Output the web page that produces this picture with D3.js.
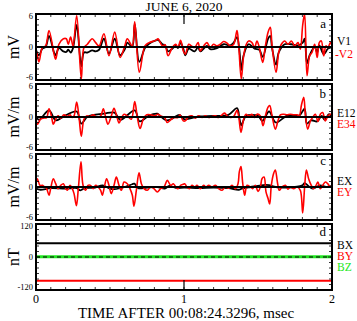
<!DOCTYPE html>
<html><head><meta charset="utf-8">
<script src="https://cdn.jsdelivr.net/npm/d3@7"></script>
<style>body{margin:0;background:#fff}svg{display:block}text{font-family:"Liberation Serif","Times New Roman",serif}</style>
</head><body><svg id="c" width="357" height="321"></svg>
<script>
// ---- DATA (time in msec, values in panel units) ----
const title = "JUNE 6, 2020";
const xLabel = "TIME AFTER 00:08:24.3296, msec";
const xTicks = [0, 1, 2];
const panelLetters = ["a", "b", "c", "d"];
const yLabels = ["mV", "mV/m", "mV/m", "nT"];
const seriesNames = [["V1", "-V2"], ["E12", "E34"], ["EX", "EY"], ["BX", "BY", "BZ"]];

// Panel a: V1 (black), -V2 (red)
const v1 = [[0,-0.5],[0.02,-1.5],[0.043,-0.3],[0.065,0],[0.088,2],[0.122,-1],[0.133,-1.5],[0.155,-0.2],[0.185,-0.8],[0.205,-0.9],[0.218,-0.5],[0.234,-1],[0.25,-0.2],[0.275,4],[0.306,-3.5],[0.324,-1],[0.347,-1],[0.38,-0.6],[0.403,-0.8],[0.426,-0.5],[0.459,1.5],[0.493,-1.2],[0.532,1.5],[0.568,-1.5],[0.6,-0.4],[0.617,0.8],[0.65,0],[0.667,4.2],[0.698,-2.7],[0.736,-0.2],[0.764,0.6],[0.809,1.2],[0.824,1.3],[0.854,0.5],[0.872,0.3],[0.892,-0.8],[0.921,-0.3],[0.944,0.2],[0.959,-0.2],[0.977,0.8],[0.995,-0.3],[1.009,-1.5],[1.032,-0.3],[1.072,-0.8],[1.095,0],[1.11,-0.8],[1.155,0.2],[1.178,-0.4],[1.223,-0.2],[1.268,0.5],[1.313,0.3],[1.336,0.8],[1.358,1.8],[1.374,-0.5],[1.387,-4.2],[1.403,-1.5],[1.437,0.5],[1.477,-0.3],[1.509,-0.5],[1.532,-1.8],[1.568,1.5],[1.583,2],[1.595,-0.2],[1.622,-3.2],[1.64,-1],[1.68,0.5],[1.725,0.5],[1.77,0.3],[1.802,0.8],[1.815,1.5],[1.831,-3],[1.849,-1.5],[1.883,0],[1.9,-1],[1.914,0.3],[1.944,-1.3],[1.973,-0.3],[2,0]];
const v2neg = [[0,-0.6],[0.005,-1],[0.02,-2.7],[0.043,-0.1],[0.065,0.2],[0.088,3],[0.122,-1.3],[0.133,-2.2],[0.155,0.5],[0.185,1.5],[0.205,1.5],[0.218,0.5],[0.234,1.8],[0.25,0.2],[0.275,5.7],[0.306,-5.8],[0.324,-0.1],[0.347,0.5],[0.38,1.5],[0.403,0.8],[0.426,0.2],[0.459,2.4],[0.493,-1.6],[0.532,2.7],[0.568,-1.9],[0.6,0.2],[0.617,1.5],[0.65,0.2],[0.667,4.6],[0.698,-4.6],[0.736,0.2],[0.764,0.8],[0.809,1.2],[0.824,1.5],[0.854,0.2],[0.872,0.4],[0.892,-1.6],[0.921,-0.1],[0.944,0.5],[0.959,-0.1],[0.977,1.2],[0.995,-0.7],[1.009,-1.3],[1.032,0.5],[1.05,0.2],[1.072,-0.1],[1.095,0.8],[1.11,-0.7],[1.133,0.2],[1.155,0.8],[1.178,-0.1],[1.2,0.5],[1.223,0.2],[1.245,0.5],[1.268,1],[1.291,0.7],[1.313,0.2],[1.336,0.5],[1.358,3],[1.369,0.5],[1.387,-5.8],[1.403,-1.6],[1.421,0.5],[1.437,1.1],[1.459,0.8],[1.477,-0.1],[1.493,1.1],[1.509,-0.1],[1.532,-2.8],[1.55,0.2],[1.568,2.7],[1.583,3.6],[1.595,0.2],[1.622,-4.6],[1.64,-1],[1.658,0.5],[1.68,1.1],[1.703,0.5],[1.725,1.1],[1.748,0.2],[1.77,0.8],[1.786,-0.4],[1.802,4],[1.815,6],[1.831,-5.2],[1.849,-1.6],[1.865,-1],[1.883,0.5],[1.9,-1.9],[1.914,0.8],[1.928,1.1],[1.944,-1.6],[1.959,0.2],[1.973,-0.1],[1.989,0.8],[2,0.2]];

// Panel b: E12 (black), E34 (red)
const e12 = [[0,0],[0.02,-0.5],[0.088,1.2],[0.133,-0.6],[0.2,0.3],[0.275,1],[0.306,-1.2],[0.35,0.1],[0.46,0.6],[0.53,0.8],[0.57,-0.5],[0.667,1.2],[0.7,-0.8],[0.76,0.2],[0.82,0.6],[0.835,0.3],[0.88,-0.6],[0.92,-0.3],[0.97,0.4],[1,-0.4],[1.1,0.1],[1.2,0.2],[1.3,0.4],[1.358,1.6],[1.375,-0.3],[1.387,-1.5],[1.42,0.2],[1.5,0.2],[1.53,-0.7],[1.575,1],[1.62,-1],[1.7,0.3],[1.78,0.3],[1.815,1.5],[1.83,-1.2],[1.86,-0.6],[1.9,-0.8],[1.93,0.2],[1.95,-0.5],[1.98,0.5],[2,0]];
const e34 = [[0,0.8],[0.009,-1.3],[0.032,-0.4],[0.054,-0.2],[0.072,-0.1],[0.088,1.5],[0.104,0.2],[0.117,-1.3],[0.133,-0.4],[0.149,0.2],[0.167,-0.2],[0.189,0.4],[0.212,0.1],[0.23,0.4],[0.245,-0.1],[0.257,0.2],[0.275,2.7],[0.291,-0.1],[0.306,-3.5],[0.324,-0.4],[0.342,0.2],[0.365,0.1],[0.387,0.4],[0.41,0],[0.437,0.2],[0.455,1.5],[0.471,-0.1],[0.486,-1.3],[0.509,0.2],[0.527,1.6],[0.545,0.2],[0.561,-1.1],[0.577,-0.2],[0.595,0.5],[0.617,0.2],[0.644,-0.4],[0.667,2.8],[0.685,-0.1],[0.703,-2.1],[0.725,-0.4],[0.748,0.4],[0.775,0.4],[0.802,0.2],[0.824,0.5],[0.842,0.2],[0.869,-0.1],[0.887,-1],[0.91,-0.5],[0.932,-0.1],[0.959,-0.1],[0.973,0.4],[0.995,-0.7],[1.009,-0.7],[1.032,0.1],[1.054,0.2],[1.077,-0.2],[1.099,0.2],[1.122,-0.1],[1.144,0.2],[1.167,-0.1],[1.189,0.1],[1.212,0.2],[1.234,-0.1],[1.257,0.4],[1.275,0.7],[1.291,0.2],[1.313,-0.1],[1.336,0.1],[1.358,1.2],[1.369,0.2],[1.385,-2.8],[1.403,-0.4],[1.419,0.5],[1.437,0.2],[1.459,0.5],[1.477,-0.1],[1.493,0.5],[1.516,0.2],[1.534,-1.6],[1.55,0.2],[1.568,1.8],[1.579,2.1],[1.595,0.2],[1.617,-2.2],[1.635,-0.7],[1.651,0.4],[1.674,0.5],[1.696,0.4],[1.718,0.5],[1.741,0.4],[1.764,0.4],[1.779,0.2],[1.793,2.1],[1.809,3.6],[1.82,0.5],[1.836,-2.2],[1.854,-0.7],[1.869,-0.1],[1.887,0.5],[1.905,-0.8],[1.921,0.5],[1.937,0.8],[1.955,-0.7],[1.973,0.2],[1.989,0.5],[2,0.2]];

// Panel c: EX (black), EY (red)
const ex = [[0,-0.3],[0.03,-0.5],[0.1,-0.2],[0.2,-0.3],[0.275,-0.2],[0.3,-0.6],[0.33,-0.2],[0.4,-0.1],[0.45,0.3],[0.5,-0.3],[0.53,-0.4],[0.6,0],[0.65,0.5],[0.665,0.6],[0.69,-0.2],[0.75,-0.1],[0.82,0],[0.87,-0.3],[0.9,0.2],[0.95,-0.2],[1,-0.1],[1.1,-0.2],[1.2,-0.1],[1.3,-0.2],[1.37,-0.5],[1.39,-0.3],[1.45,0],[1.55,0.4],[1.58,0.3],[1.62,0],[1.7,-0.1],[1.8,0.3],[1.815,0.7],[1.84,0.2],[1.87,-0.3],[1.92,0.3],[1.96,0],[2,0.2]];
const ey = [[0,0.6],[0.009,1.5],[0.027,0.3],[0.043,0.3],[0.059,0],[0.072,-0.3],[0.088,-1.5],[0.099,-0.3],[0.117,1.5],[0.133,0.6],[0.149,-0.3],[0.167,0.3],[0.185,0.6],[0.2,-0.3],[0.212,-0.6],[0.23,0.3],[0.245,-0.3],[0.257,-1.2],[0.273,-3.4],[0.286,-0.3],[0.304,4.6],[0.318,0.3],[0.336,-0.6],[0.351,0.3],[0.369,0.3],[0.387,-0.3],[0.403,0.3],[0.419,0],[0.437,-0.6],[0.448,-1.5],[0.464,0.3],[0.477,1.5],[0.493,0.3],[0.509,-1.2],[0.527,0.3],[0.543,1.8],[0.561,0.3],[0.577,-0.6],[0.595,0.9],[0.617,0.6],[0.635,-0.3],[0.651,-1.5],[0.662,-3.5],[0.678,-0.6],[0.696,2.6],[0.712,0.6],[0.73,-0.3],[0.752,-0.6],[0.775,0],[0.797,-0.3],[0.82,-0.9],[0.842,-0.3],[0.865,0],[0.887,1.2],[0.91,0.3],[0.928,0.6],[0.944,0],[0.959,-0.3],[0.977,0.3],[0.995,0.5],[1.005,0.6],[1.02,0],[1.036,-0.3],[1.054,0.3],[1.072,0],[1.088,0.3],[1.11,-0.3],[1.133,0.3],[1.149,0],[1.167,0.3],[1.189,0],[1.212,0.3],[1.234,-0.3],[1.257,-0.6],[1.279,0],[1.302,-0.2],[1.324,0.3],[1.347,-0.3],[1.365,0.6],[1.374,2.8],[1.385,3.7],[1.396,0.9],[1.41,-1.5],[1.426,0.3],[1.448,0],[1.464,-0.3],[1.482,0.3],[1.5,-0.8],[1.516,0],[1.527,1.5],[1.541,1.8],[1.554,-0.9],[1.568,-2.1],[1.579,-3.1],[1.59,0.3],[1.606,2.5],[1.617,3.1],[1.631,0.9],[1.644,-0.6],[1.662,0],[1.685,0.3],[1.703,-0.4],[1.718,0],[1.741,-0.3],[1.764,0],[1.786,-0.6],[1.802,-4.7],[1.815,0],[1.827,3.1],[1.842,1.5],[1.86,0.3],[1.876,-0.3],[1.892,0.3],[1.905,0.9],[1.921,-0.3],[1.937,0.3],[1.955,0.9],[1.971,0.6],[1.989,0],[2,0.3]];

// Panel d: BX, BY, BZ (nT)
const bx = [[0,50],[1,50],[2,50]];
const by = [[0,-86],[1,-86],[2,-86]];
const bz = [[0,0.5],[1,0.5],[2,0.5]];

// ---- LAYOUT ----
const svg = d3.select("#c");
const X0 = 36, X1 = 332, PT = 14, PH = 66, PS = 70;
const x = d3.scaleLinear().domain([0, 2]).range([X0, X1]);
const RED = "#ff0000", GREEN = "#22e622";

const panels = [
  {dom: [-6, 6], tl: ["6", "0", "-6"], step: 1, series: [{d: v1, c: "#000", w: 1.8}, {d: v2neg, c: RED, w: 1.6}], labels: [{t: "V1", c: "#000", dy: -2}, {t: "-V2", c: RED, dy: 11, dx: -2}]},
  {dom: [-6, 6], tl: ["6", "0", "-6"], step: 1, series: [{d: e12, c: "#000", w: 1.8}, {d: e34, c: RED, w: 1.6}], labels: [{t: "E12", c: "#000", dy: 0}, {t: "E34", c: RED, dy: 11}]},
  {dom: [-6, 6], tl: ["6", "0", "-6"], step: 1, series: [{d: ex, c: "#000", w: 1.8}, {d: ey, c: RED, w: 1.6}], labels: [{t: "EX", c: "#000", dy: -2}, {t: "EY", c: RED, dy: 9}]},
  {dom: [-120, 120], tl: ["120", "0", "-120"], step: 20, series: [{d: bx, c: "#000", w: 1.8}, {d: by, c: RED, w: 2}, {d: bz, c: GREEN, w: 3}], labels: [{t: "BX", c: "#000", dy: -8}, {t: "BY", c: RED, dy: 3}, {t: "BZ", c: GREEN, dy: 14}], dashedZero: true}
];

svg.append("text").attr("x", 184).attr("y", 11).attr("text-anchor", "middle").attr("font-size", 13.5).text(title);

panels.forEach((p, i) => {
  const top = PT + i * PS, bot = top + PH;
  const y = d3.scaleLinear().domain(p.dom).range([bot, top]);
  const g = svg.append("g");
  const cid = "clip" + i;
  svg.append("clipPath").attr("id", cid).append("rect").attr("x", X0).attr("y", top).attr("width", X1 - X0).attr("height", PH);
  const line = d3.line().x(d => x(d[0])).y(d => y(d[1])).curve(d3.curveCatmullRom.alpha(0.5));
  const gp = g.append("g").attr("clip-path", `url(#${cid})`);
  p.series.forEach(s => {
    gp.append("path").attr("d", line(s.d)).attr("fill", "none").attr("stroke", s.c).attr("stroke-width", s.w).attr("stroke-linejoin", "round");
  });
  // zero line
  gp.append("line").attr("x1", X0).attr("x2", X1).attr("y1", y(0)).attr("y2", y(0))
    .attr("stroke", "#000").attr("stroke-width", p.dashedZero ? 1.2 : 2.2)
    .attr("stroke-dasharray", p.dashedZero ? "4,3" : null);

  // y ticks (inner, both sides)
  const yt = d3.range(p.dom[0] + p.step, p.dom[1], p.step);
  yt.forEach(v => {
    const len = v === 0 ? 4 : 3;
    g.append("line").attr("x1", X0).attr("x2", X0 + len).attr("y1", y(v)).attr("y2", y(v)).attr("stroke", "#000").attr("stroke-width", 0.8);
    g.append("line").attr("x1", X1).attr("x2", X1 - len).attr("y1", y(v)).attr("y2", y(v)).attr("stroke", "#000").attr("stroke-width", 0.8);
  });
  // x ticks (inner, top and bottom)
  d3.range(1, 20).map(k => k / 10).forEach(t => {
    g.append("line").attr("x1", x(t)).attr("x2", x(t)).attr("y1", top).attr("y2", top + 3).attr("stroke", "#000").attr("stroke-width", 0.8);
    g.append("line").attr("x1", x(t)).attr("x2", x(t)).attr("y1", bot).attr("y2", bot - 3).attr("stroke", "#000").attr("stroke-width", 0.8);
  });
  if (i === 0) g.append("line").attr("x1", x(1)).attr("x2", x(1)).attr("y1", top).attr("y2", top + 10).attr("stroke", "#000").attr("stroke-width", 1.2);
  if (i === 3) g.append("line").attr("x1", x(1)).attr("x2", x(1)).attr("y1", bot).attr("y2", bot - 10).attr("stroke", "#000").attr("stroke-width", 1.2);

  // frame
  g.append("rect").attr("x", X0).attr("y", top).attr("width", X1 - X0).attr("height", PH).attr("fill", "none").attr("stroke", "#000").attr("stroke-width", 2);

  // y tick labels (top label just below the top edge, bottom label on the bottom edge)
  const tlY = [top + 4.5, y(0) + 3, bot];
  [p.dom[1], 0, p.dom[0]].forEach((v, k) => {
    g.append("text").attr("x", 33).attr("y", tlY[k]).attr("text-anchor", "end").attr("font-size", 8.5).text(p.tl[k]);
  });
  // y label
  g.append("text").attr("transform", `translate(19,${(top + bot) / 2}) rotate(-90)`).attr("text-anchor", "middle").attr("font-size", 16).text(yLabels[i]);
  // panel letter
  g.append("text").attr("x", 326).attr("y", top + (i === 2 ? 11 : i === 3 ? 12 : 14)).attr("text-anchor", "end").attr("font-size", 13).text(panelLetters[i]);
  // series labels
  p.labels.forEach(l => {
    g.append("text").attr("x", 337 + (l.dx || 0)).attr("y", y(0) + l.dy).attr("font-size", 11.5).attr("fill", l.c).text(l.t);
  });
});

// x tick labels & label
const bottom = PT + 3 * PS + PH;
xTicks.forEach(t => {
  svg.append("text").attr("x", x(t)).attr("y", bottom + 13).attr("text-anchor", "middle").attr("font-size", 12).text(t);
});
svg.append("text").attr("x", 186).attr("y", 318).attr("text-anchor", "middle").attr("font-size", 15).text(xLabel);
</script></body></html>
